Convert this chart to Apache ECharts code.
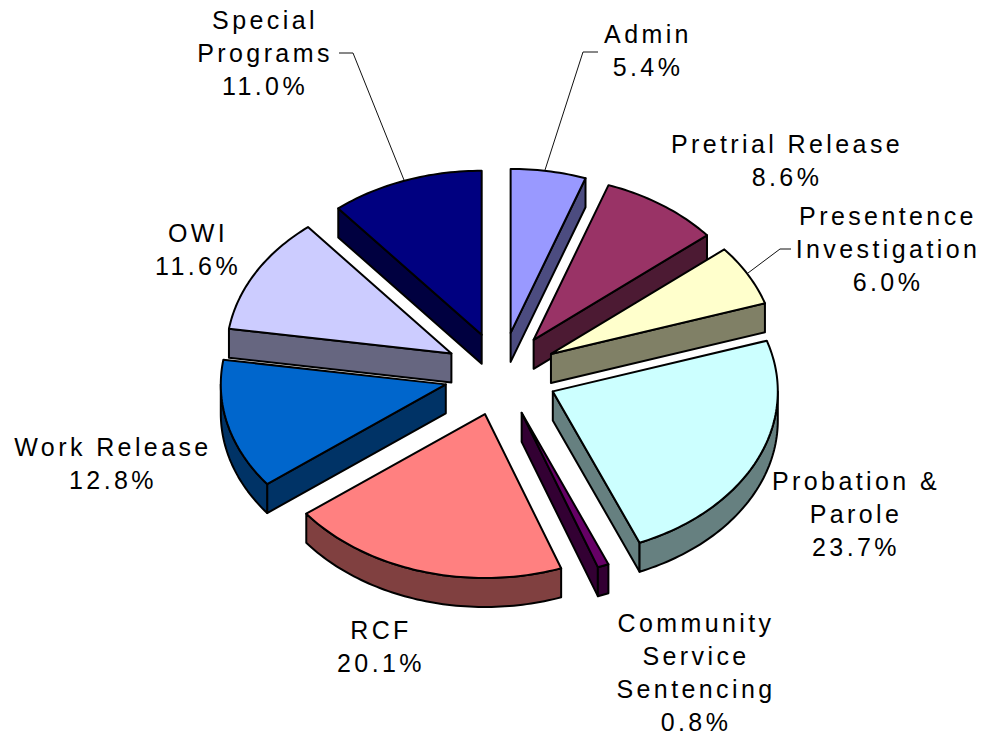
<!DOCTYPE html>
<html>
<head>
<meta charset="utf-8">
<title>Budget pie</title>
<script src="https://cdn.jsdelivr.net/npm/echarts@6/dist/echarts.min.js"></script>
<style>
  html, body { margin: 0; padding: 0; background: #fff; }
  #chart { width: 982px; height: 740px; }
  /* the original labels are spaced out, canvas text cant do this so we use the svg renderer */
  #chart text { letter-spacing: 3.4px; }
</style>
</head>
<body>
<div id="chart"></div>
<script>
var names = ['Admin', 'Pretrial Release', 'Presentence\nInvestigation', 'Probation &\nParole',
  'Community\nService\nSentencing', 'RCF', 'Work Release', 'OWI', 'Special\nPrograms']
var values = [5.4, 8.6, 6.0, 23.7, 0.8, 20.1, 12.8, 11.6, 11.0]
var topColors = ['#9999ff', '#993366', '#ffffcc', '#ccffff', '#660066', '#ff8080', '#0066cc', '#ccccff', '#000080']
var sideColors = ['#4c4c80', '#4c1a33', '#808066', '#668080', '#330033', '#804040', '#003366', '#666680', '#000040']

// label block centres
var labelX = [648, 787, 888, 856, 696, 381, 113, 198, 265]
var labelY = [50, 160, 249, 514, 672, 646, 463, 249, 53]
// leader lines, only three labels have one
var leaders = {
  0: [[598, 52], [583, 52], [545, 170]],
  2: [[791, 249], [780, 249], [748, 273]],
  8: [[339, 53], [353, 53], [404, 180]]
}

var cx = 501, cy = 374
var rx = 225, ry = 164
var explodeX = 57, explodeY = 41.7
var depth = 29
var total = values.reduce(function (a, b) { return a + b }, 0)

function rad(pct) { return pct / total * Math.PI * 2 }

function arcPoints(ax, ay, a, b) {
  var pts = [], n = Math.max(2, Math.ceil((b - a) / 0.02))
  for (var i = 0; i <= n; i++) {
    var t = a + (b - a) * i / n
    pts.push([ax + rx * Math.sin(t), ay - ry * Math.cos(t)])
  }
  return pts
}

function face(pts, fill) {
  return {
    type: 'polygon',
    shape: { points: pts },
    style: { fill: fill, stroke: '#000', lineWidth: 2, lineJoin: 'round' },
    silent: true
  }
}

function renderSlice(params, api) {
  var i = params.dataIndex
  var before = 0
  for (var k = 0; k < i; k++) before += values[k]
  var a = rad(before), b = rad(before + api.value(0))
  var mid = (a + b) / 2
  var ax = cx + explodeX * Math.sin(mid)
  var ay = cy - explodeY * Math.cos(mid)
  var children = []
  var side = sideColors[i]

  function wall(angle) {
    var px = ax + rx * Math.sin(angle), py = ay - ry * Math.cos(angle)
    children.push(face([[ax, ay], [px, py], [px, py + depth], [ax, ay + depth]], side))
  }
  // only the walls that face the viewer
  if (Math.sin(a) < -1e-6) wall(a)
  if (Math.sin(b) > 1e-6) wall(b)
  var from = Math.max(a, Math.PI / 2), to = Math.min(b, Math.PI * 1.5)
  if (to > from) {
    var upper = arcPoints(ax, ay, from, to)
    var lower = upper.map(function (p) { return [p[0], p[1] + depth] }).reverse()
    children.push(face(upper.concat(lower), side))
  }
  children.push(face([[ax, ay]].concat(arcPoints(ax, ay, a, b)), topColors[i]))

  if (leaders[i]) {
    children.push({
      type: 'polyline',
      shape: { points: leaders[i] },
      style: { fill: null, stroke: '#111', lineWidth: 1 },
      silent: true
    })
  }
  children.push({
    type: 'text',
    x: labelX[i],
    y: labelY[i],
    style: {
      text: names[i] + '\n' + api.value(0).toFixed(1) + '%',
      font: '25px "Liberation Sans", Arial, sans-serif',
      lineHeight: 33,
      fill: '#000',
      align: 'center',
      verticalAlign: 'middle'
    },
    silent: true
  })
  return { type: 'group', children: children }
}

var chart = echarts.init(document.getElementById('chart'), null, { renderer: 'svg' })
chart.setOption({
  animation: false,
  backgroundColor: '#fff',
  series: [{
    type: 'custom',
    coordinateSystem: 'none',
    renderItem: renderSlice,
    data: values
  }]
})
window.addEventListener('resize', function () { chart.resize() })
</script>
</body>
</html>
